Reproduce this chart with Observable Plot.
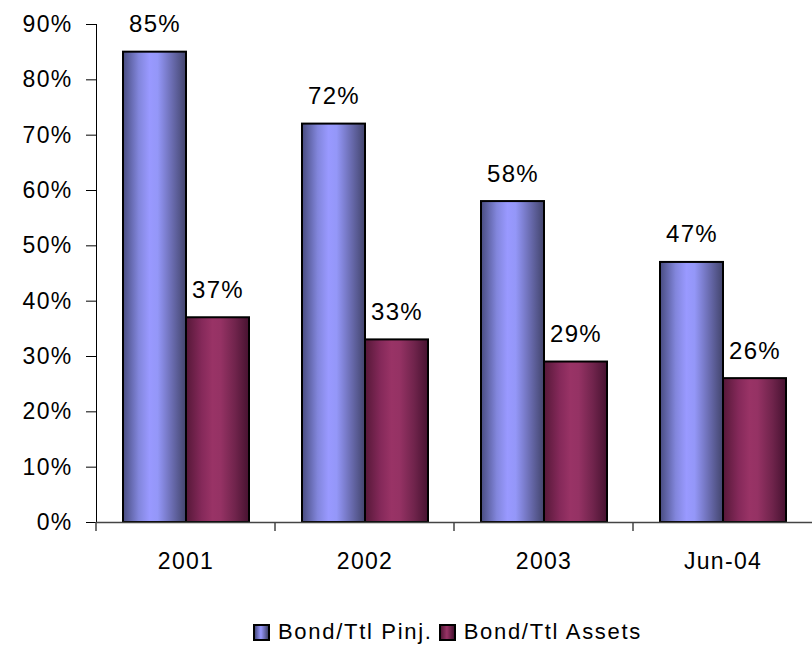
<!DOCTYPE html>
<html>
<head>
<meta charset="utf-8">
<script src="https://cdn.jsdelivr.net/npm/d3@7"></script>
<script src="https://cdn.jsdelivr.net/npm/@observablehq/plot@0.6"></script>
<style>
  html, body { margin: 0; padding: 0; background: #fff; }
  #wrap { position: relative; width: 812px; height: 649px; font-family: "Liberation Sans", Arial, sans-serif; }
  #wrap svg { display: block; }
  #legend { position: absolute; left: 253px; top: 619px; display: flex; align-items: center; font-size: 22px; letter-spacing: 1.7px; color: #000; white-space: nowrap; }
  .sw { width: 13px; height: 13px; border: 2px solid #000; box-sizing: content-box; margin-right: 8px; }
  .item { display: flex; align-items: center; margin-right: 6px; }
</style>
</head>
<body>
<div id="wrap"></div>
<script>
const years = ["2001", "2002", "2003", "Jun-04"];
const seriesNames = ["Bond/Ttl Pinj.", "Bond/Ttl Assets"];
const pinj = [85, 72, 58, 47];
const assets = [37, 33, 29, 26];
const yTicks = [0, 10, 20, 30, 40, 50, 60, 70, 80, 90];

const data = years.flatMap((yr, i) => [
  {year: yr, series: seriesNames[0], value: pinj[i]},
  {year: yr, series: seriesNames[1], value: assets[i]}
]);

const plot = Plot.plot({
  width: 812,
  height: 605,
  marginLeft: 96,
  marginRight: 0,
  marginTop: 24,
  marginBottom: 83,
  style: {fontFamily: "'Liberation Sans', Arial, sans-serif", fontSize: "23px", letterSpacing: "1.3px", color: "#000", background: "#fff"},
  facet: {data, x: "year"},
  fx: {domain: years, padding: 0, label: null, axis: "bottom", tickSize: 0, tickPadding: 30},
  x: {domain: seriesNames, paddingInner: 0, paddingOuter: 0.4, axis: null},
  y: {domain: [0, 90], ticks: yTicks, tickFormat: d => d + "%", label: null, tickSize: 10, tickPadding: 14, line: true},
  marks: [
    Plot.barY(data, {filter: d => d.series === seriesNames[0], x: "series", y: "value", fill: "url(#gradBlue)", stroke: "#000", strokeWidth: 2}),
    Plot.barY(data, {filter: d => d.series === seriesNames[1], x: "series", y: "value", fill: "url(#gradMaroon)", stroke: "#000", strokeWidth: 2}),
    Plot.ruleY([0], {stroke: "#444", strokeWidth: 1.5}),
    Plot.text(data, {x: "series", y: "value", text: d => d.value + "%", dy: -20, lineAnchor: "bottom", fill: "#000", fontSize: 24})
  ]
});

const svg = d3.select(plot);
const defs = svg.insert("defs", ":first-child");
function grad(id, stops) {
  const g = defs.append("linearGradient").attr("id", id).attr("x1", "0").attr("x2", "1").attr("y1", "0").attr("y2", "0");
  stops.forEach(([o, c]) => g.append("stop").attr("offset", o).attr("stop-color", c));
}
grad("gradBlue", [[0, "#484c80"], [0.25, "#8286dc"], [0.42, "#9999ff"], [0.55, "#9497f8"], [0.78, "#6a6cb0"], [1, "#42446c"]]);
grad("gradMaroon", [[0, "#561838"], [0.25, "#85295a"], [0.42, "#993366"], [0.55, "#953264"], [0.78, "#70244c"], [1, "#461230"]]);

// category boundary ticks on the x axis
const fxs = plot.scale("fx");
const y0 = plot.scale("y").apply(0);
const bounds = years.map(y => fxs.apply(y));
const tg = svg.append("g").attr("stroke", "#444").attr("stroke-width", 1.5);
bounds.forEach(b => {
  tg.append("line").attr("x1", b).attr("x2", b).attr("y1", y0).attr("y2", y0 + 9);
});

document.getElementById("wrap").appendChild(plot);

const legend = document.createElement("div");
legend.id = "legend";
legend.innerHTML = `
  <div class="item"><div class="sw" style="background: linear-gradient(to right, #484c80, #9999ff 45%, #42446c)"></div><span>${seriesNames[0]}</span></div>
  <div class="item"><div class="sw" style="background: linear-gradient(to right, #561838, #993366 45%, #461230)"></div><span>${seriesNames[1]}</span></div>`;
document.getElementById("wrap").appendChild(legend);
</script>
</body>
</html>
